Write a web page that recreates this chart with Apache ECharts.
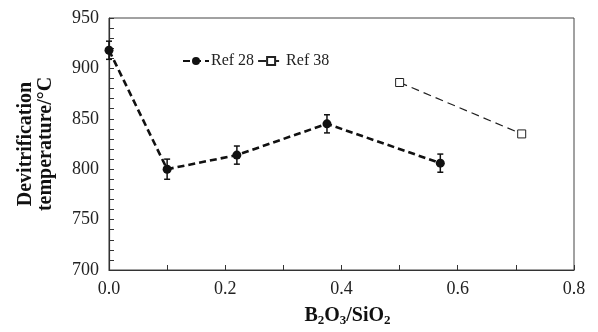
<!DOCTYPE html>
<html>
<head>
<meta charset="utf-8">
<script src="https://cdn.jsdelivr.net/npm/echarts@6/dist/echarts.min.js"></script>
<style>
  html, body { margin: 0; padding: 0; background: #fff; }
  #chart { width: 598px; height: 332px; }
</style>
</head>
<body>
<div id="chart"></div>
<script>
// Values.
const ref28X = [0.0, 0.1, 0.22, 0.375, 0.57];
const ref28Y = [918, 800, 814, 845, 806];
const ref28Err = [9, 10, 9, 9, 9];
const ref38X = [0.5, 0.71];
const ref38Y = [886, 835];

const FONT = 'Liberation Serif';

const chart = echarts.init(document.getElementById('chart'), null, { renderer: 'canvas' });

// Error bars as a custom series.
const errData = ref28X.map((x, i) => [x, ref28Y[i] - ref28Err[i], ref28Y[i] + ref28Err[i]]);

const option = {
  animation: false,
  backgroundColor: '#fff',
  grid: {
    left: 109, right: 24, top: 18, bottom: 56,
    show: true, borderColor: '#444', borderWidth: 1
  },
  legend: {
    left: 177, top: 48,
    itemWidth: 26, itemHeight: 10, itemGap: 3,
    textStyle: { fontFamily: FONT, fontSize: 16, color: '#222', padding: [0, 0, 0, -3] },
    data: ['Ref 28', 'Ref 38']
  },
  xAxis: {
    type: 'value', min: 0, max: 0.8, interval: 0.2,
    name: '{b|B}{s|2}{b|O}{s|3}{b|/SiO}{s|2}',
    nameLocation: 'middle', nameGap: 35,
    nameTextStyle: {
      padding: [0, 0, 0, 12],
      rich: {
        b: { fontFamily: FONT, fontWeight: 'bold', fontSize: 20, lineHeight: 22, color: '#111' },
        s: { fontFamily: FONT, fontWeight: 'bold', fontSize: 13, lineHeight: 12, color: '#111', verticalAlign: 'bottom' }
      }
    },
    axisLine: { lineStyle: { color: '#333', width: 1.2 } },
    axisTick: { inside: true, length: 5, lineStyle: { color: '#333' } },
    minorTick: { show: true, splitNumber: 2, length: 5, lineStyle: { color: '#333' } },
    splitLine: { show: false },
    axisLabel: {
      fontFamily: FONT, fontSize: 18, color: '#222', margin: 10,
      formatter: v => v.toFixed(1)
    }
  },
  yAxis: {
    type: 'value', min: 700, max: 950, interval: 50,
    name: 'Devitrification\ntemperature/°C',
    nameLocation: 'middle', nameGap: 53,
    nameTextStyle: { fontFamily: FONT, fontWeight: 'bold', fontSize: 20, color: '#111', lineHeight: 20 },
    axisLine: { show: true, lineStyle: { color: '#333', width: 1.2 } },
    axisTick: { inside: true, length: 5, lineStyle: { color: '#333' } },
    minorTick: { show: true, splitNumber: 5, length: 5, lineStyle: { color: '#333' } },
    splitLine: { show: false },
    axisLabel: { fontFamily: FONT, fontSize: 18, color: '#222', margin: 10 }
  },
  series: [
    {
      name: 'Ref 28', type: 'line',
      data: ref28X.map((x, i) => [x, ref28Y[i]]),
      symbol: 'circle', symbolSize: 9,
      itemStyle: { color: '#111' },
      lineStyle: { color: '#111', width: 2.6, type: [7, 4] }
    },
    {
      name: 'Ref 38', type: 'line',
      data: ref38X.map((x, i) => [x, ref38Y[i]]),
      symbol: 'rect', symbolSize: 8,
      itemStyle: { color: '#fff', borderColor: '#222', borderWidth: 1 },
      lineStyle: { color: '#222', width: 1.2, type: [8, 5] }
    },
    {
      name: 'err', type: 'custom',
      data: errData,
      z: 3,
      renderItem: (params, api) => {
        const x = api.value(0);
        const lo = api.coord([x, api.value(1)]);
        const hi = api.coord([x, api.value(2)]);
        const w = 3;
        const style = { stroke: '#111', lineWidth: 1.5 };
        return {
          type: 'group',
          children: [
            { type: 'line', shape: { x1: lo[0], y1: lo[1], x2: hi[0], y2: hi[1] }, style },
            { type: 'line', shape: { x1: lo[0] - w, y1: lo[1], x2: lo[0] + w, y2: lo[1] }, style },
            { type: 'line', shape: { x1: hi[0] - w, y1: hi[1], x2: hi[0] + w, y2: hi[1] }, style }
          ]
        };
      }
    }
  ]
};

chart.setOption(option);
</script>
</body>
</html>
